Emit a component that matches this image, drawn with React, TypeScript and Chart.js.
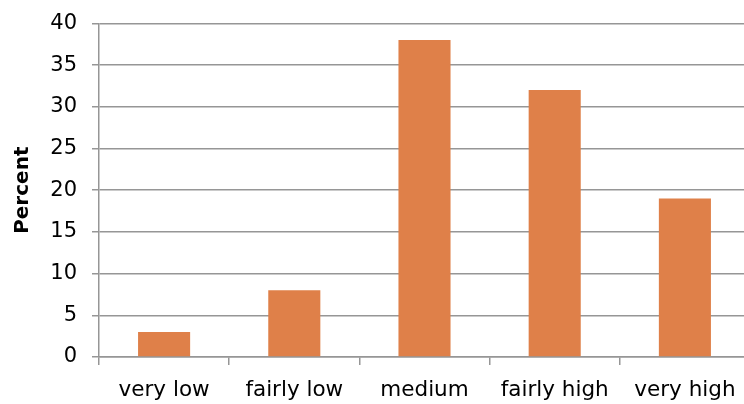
import React, { useEffect, useRef } from "react";
import { Chart, registerables } from "chart.js";

Chart.register(...registerables);

const categories = ["very low", "fairly low", "medium", "fairly high", "very high"];
const percentValues = [3, 8, 38, 32, 19];
const yMin = 0;
const yMax = 40;
const yStep = 5;

export default function App() {
  const ref = useRef<HTMLCanvasElement | null>(null);

  useEffect(() => {
    if (!ref.current) return;
    const font = "'DejaVu Sans', sans-serif";
    const chart = new Chart(ref.current, {
      type: "bar",
      data: {
        labels: categories,
        datasets: [
          {
            data: percentValues,
            backgroundColor: "#DF8049",
            borderWidth: 0,
            barPercentage: 0.4,
            categoryPercentage: 1,
          },
        ],
      },
      options: {
        animation: false,
        responsive: false,
        maintainAspectRatio: false,
        layout: { padding: { top: 23, left: 0, right: 0, bottom: 0 } },
        plugins: { legend: { display: false }, tooltip: { enabled: false } },
        scales: {
          x: {
            offset: true,
            grid: {
              offset: true,
              drawOnChartArea: false,
              drawTicks: true,
              tickLength: 8,
              color: "#969696",
              lineWidth: 1.5,
            },
            border: { color: "#969696", width: 1.5 },
            ticks: { color: "#000", font: { family: font, size: 21.5 }, padding: 13, maxRotation: 0, autoSkip: false },
            afterFit: (s: any) => {
              s.height = 47;
            },
          },
          y: {
            min: yMin,
            max: yMax,
            ticks: { stepSize: yStep, color: "#000", font: { family: font, size: 21, lineHeight: 0.8 }, padding: 15 },
            grid: { color: "#969696", lineWidth: 1.5, tickLength: 7 },
            border: { color: "#969696", width: 1.5 },
            title: {
              display: true,
              text: "Percent",
              color: "#000",
              font: { family: font, size: 20, weight: "bold" },
              padding: { top: 11, bottom: 0 },
            },
            afterFit: (s: any) => {
              s.width = 99;
            },
          },
        },
      },
    });
    return () => chart.destroy();
  }, []);

  return (
    <div style={{ position: "fixed", left: 0, top: 0, width: 744, height: 404, overflow: "hidden", background: "#fff" }}>
      <canvas ref={ref} width={750} height={404} style={{ width: 750, height: 404, display: "block" }} />
    </div>
  );
}
